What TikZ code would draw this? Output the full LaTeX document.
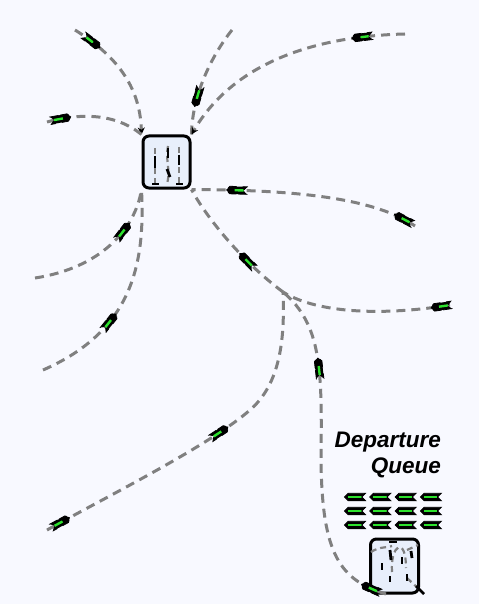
\documentclass[tikz,border=0pt]{standalone}
\usepackage{fontspec}
\setmainfont{Liberation Sans}
\usetikzlibrary{shapes.symbols,arrows.meta}
\definecolor{bgblue}{RGB}{248,249,255}
\definecolor{boxblue}{RGB}{232,239,251}
\definecolor{planegreen}{RGB}{45,225,45}
\definecolor{taxigray}{RGB}{128,128,128}

\begin{document}
\begin{tikzpicture}[x=1pt,y=-1pt,
  taxi/.style={draw=taxigray,line width=3pt,dash pattern=on 9pt off 6pt},
  lane/.style={draw=taxigray,line width=2.2pt,dash pattern=on 6pt off 4pt},
  blip/.style={draw=black,line width=2.8pt},
  plane/.style={signal,signal to=east,signal from=west,fill=black,draw=black,line width=.8pt,
    minimum width=21pt,minimum height=7.5pt,inner sep=0pt,sloped,allow upside down,
    path picture={\draw[planegreen,line width=2.4pt] (-7pt,0pt) -- (6.5pt,0pt);}},
  gatebox/.style={draw=black,fill=boxblue,line width=3pt,rounded corners=6pt,inner sep=0pt},
  qlabel/.style={font=\fontsize{22.5}{26}\selectfont\bfseries\itshape,align=right,inner sep=0pt,anchor=north east}]

\fill[bgblue] (0,0) rectangle (479,604);
\useasboundingbox (0,0) rectangle (479,604);

\node[gatebox,minimum width=47pt,minimum height=52pt] (hub) at (166.5,162) {};
\node[gatebox,minimum width=48pt,minimum height=54pt] (queue) at (394.5,566) {};

\draw[lane] (155,148) -- (155,184);
\draw[lane] (168,146) .. controls (165,160) and (171,170) .. (167,184);
\draw[lane] (179,147) -- (179,184);
\draw[blip] (155,156) -- (155,168);
\draw[blip] (168,148) -- (168,158);
\draw[blip] (167,169) -- (170,177);
\draw[blip] (179,155) -- (179,165);
\draw[blip] (152,184) -- (159,184);
\draw[blip] (176,184) -- (183,184);

\draw[lane] (371,552) .. controls (380,546) and (388,548) .. (392,546);
\draw[lane] (392,572) .. controls (390,545) and (406,535) .. (406,568);
\draw[lane] (407,550) -- (418,545);
\draw[lane] (407,578) -- (421,591);
\draw[blip] (389,542) -- (397,542);
\draw[blip] (382,563) -- (382,570);
\draw[blip] (390,550) -- (391,560);
\draw[blip] (402,557) -- (402,564);
\draw[blip] (411,551) -- (412,558);
\draw[blip] (390,576) -- (390,582);
\draw[blip] (407,574) -- (407,581);
\draw[blip] (416,586) -- (424,594);

\coordinate (nw1) at (75,30);
\coordinate (nw2) at (47,122);
\coordinate (ne1) at (232,30);
\coordinate (ne2) at (405,34);
\coordinate (e1) at (415,226);
\coordinate (w1) at (35,278);
\coordinate (w2) at (43,370);
\coordinate (junc) at (283,292);
\coordinate (e2) at (450,305);
\coordinate (sw1) at (47,530);
\coordinate (qexit) at (386,594);

\draw[taxi,-{Stealth[length=7pt,width=7pt,color=black]}] (nw1) .. controls (115,55) and (140,85) .. (hub.north west) node[plane,pos=.15] (pA) {};
\draw[taxi] (nw2) .. controls (80,113) and (115,113) .. (hub.north west) node[plane,pos=.14] (pB) {};
\draw[taxi] (ne1) .. controls (212,55) and (192,95) .. (hub.north east) node[plane,pos=.68] (pC) {};
\draw[taxi,-{Stealth[length=7pt,width=7pt,color=black]}] (ne2) .. controls (320,36) and (235,60) .. (hub.north east) node[plane,pos=.17] (pD) {};
\draw[taxi] (e1) .. controls (370,195) and (280,190) .. (hub.south east) node[plane,pos=.08] (pE) {} node[plane,pos=.83] (pF) {};
\draw[taxi] (w1) .. controls (100,268) and (135,230) .. (hub.south west) node[plane,pos=.64] (pG) {};
\draw[taxi] (w2) .. controls (135,330) and (145,260) .. (hub.south west) node[plane,pos=.33] (pH) {};
\draw[taxi] (junc) .. controls (240,260) and (205,215) .. (hub.south east) node[plane,pos=.3] (pI) {};
\draw[taxi] (e2) .. controls (390,315) and (320,315) .. (junc) node[plane,pos=.05] (pJ) {};
\draw[taxi] (sw1) .. controls (110,495) and (210,445) .. (250,410) node[plane,pos=.07] (pK) {} node[plane,pos=.8] (pL) {}
  .. controls (280,384) and (285,340) .. (junc);
\draw[taxi] (qexit) .. controls (340,580) and (322,555) .. (321,460) node[plane,pos=.12] (pM) {}
  .. controls (322,370) and (322,325) .. (junc) node[plane,pos=.42] (pN) {};

\foreach \r in {0,1,2}
  \foreach \c in {0,1,2,3}
    \node[plane,signal to=west,signal from=east] (q\r\c) at (355+25.3*\c,497+14*\r) {};

\node[qlabel] (deplabel) at (441,432) {Departure\\Queue};
\end{tikzpicture}
\end{document}
